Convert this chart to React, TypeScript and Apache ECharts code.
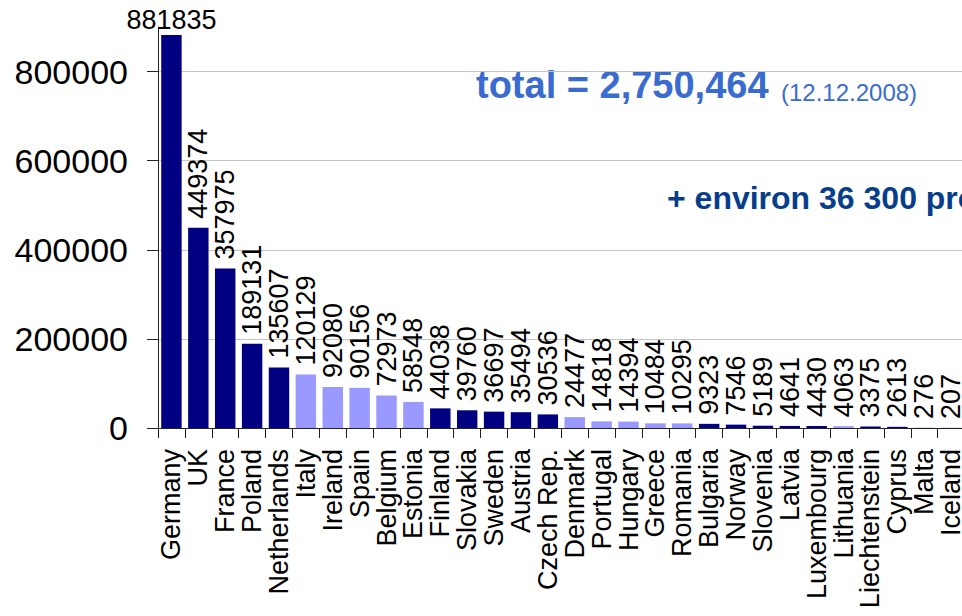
import React, { useEffect, useRef } from "react";
import * as echarts from "echarts";

const categories = [
  "Germany", "UK", "France", "Poland", "Netherlands", "Italy", "Ireland", "Spain",
  "Belgium", "Estonia", "Finland", "Slovakia", "Sweden", "Austria", "Czech Rep.",
  "Denmark", "Portugal", "Hungary", "Greece", "Romania", "Bulgaria", "Norway",
  "Slovenia", "Latvia", "Luxembourg", "Lithuania", "Liechtenstein", "Cyprus",
  "Malta", "Iceland",
];
const values = [
  881835, 449374, 357975, 189131, 135607, 120129, 92080, 90156, 72973, 58548,
  44038, 39760, 36697, 35494, 30536, 24477, 14818, 14394, 10484, 10295, 9323,
  7546, 5189, 4641, 4430, 4063, 3375, 2613, 276, 207,
];
// 0 = dark navy, 1 = light lavender
const colorGroup = [
  0, 0, 0, 0, 0, 1, 1, 1, 1, 1, 0, 0, 0, 0, 0, 1, 1, 1, 1, 1, 0, 0, 0, 0, 0, 1,
  0, 0, 0, 0,
];
// extra (off-picture) categories continue to the right of Iceland
const extraCategories = ["", "", "", "", ""];
const yTicks = [0, 200000, 400000, 600000, 800000];

const DARK = "#000080";
const LIGHT = "#9999ff";

export default function App() {
  const ref = useRef<HTMLDivElement>(null);
  useEffect(() => {
    if (!ref.current) return;
    const chart = echarts.init(ref.current, undefined, { renderer: "svg" });
    const font = "Liberation Sans, Arial, sans-serif";
    const data = values.map((v, i) => {
      const item: any = {
        value: v,
        itemStyle: { color: colorGroup[i] ? LIGHT : DARK },
      };
      if (i === 0) {
        item.label = {
          rotate: 0,
          align: "center",
          verticalAlign: "bottom",
          distance: 2,
        };
      }
      return item;
    });
    chart.setOption({
      animation: false,
      backgroundColor: "#ffffff",
      grid: {
        left: 158,
        right: -137,
        top: 27,
        bottom: 188,
        containLabel: false,
        outerBoundsMode: "none",
      },
      xAxis: {
        type: "category",
        data: categories.concat(extraCategories),
        axisLine: { lineStyle: { color: "#222", width: 1 } },
        axisTick: { show: true, length: 10, lineStyle: { color: "#222" } },
        axisLabel: {
          interval: 0,
          rotate: 90,
          margin: 21,
          fontFamily: font,
          fontSize: 27,
          color: "#000",
        },
        splitLine: { show: false },
      },
      yAxis: {
        type: "value",
        min: 0,
        max: 900000,
        interval: 100000,
        axisLine: { show: true, lineStyle: { color: "#222" } },
        axisTick: {
          show: true,
          length: 11,
          customValues: yTicks,
          lineStyle: { color: "#222" },
        },
        axisLabel: {
          customValues: yTicks,
          formatter: (v: number) => String(v),
          margin: 30,
          fontFamily: font,
          fontSize: 34,
          color: "#000",
        },
        splitLine: { show: true, lineStyle: { color: "#c4c4c4", width: 1 } },
      },
      series: [
        {
          type: "bar",
          data,
          barCategoryGap: "24%",
          label: {
            show: true,
            position: "top",
            rotate: 90,
            align: "left",
            verticalAlign: "middle",
            distance: 9,
            fontFamily: font,
            fontSize: 27,
            color: "#000",
          },
        },
      ],
      graphic: [
        {
          type: "text",
          left: 476,
          top: 66,
          style: {
            text: "total = 2,750,464",
            fontFamily: font,
            fontWeight: "bold",
            fontSize: 38,
            fill: "#3a6bd0",
          },
        },
        {
          type: "text",
          left: 781,
          top: 80,
          style: {
            text: "(12.12.2008)",
            fontFamily: font,
            fontSize: 24,
            fill: "#3a6bd0",
          },
        },
        {
          type: "text",
          x: 667,
          y: 198,
          style: {
            text: "+ environ 36 300 provenant d'autres pays",
            fontFamily: font,
            fontWeight: "bold",
            fontSize: 32,
            fill: "#063e8c",
            verticalAlign: "middle",
          },
        },
      ],
    });
    return () => chart.dispose();
  }, []);
  return (
    <div
      style={{
        position: "absolute",
        left: 0,
        top: 0,
        width: 962,
        height: 616,
        overflow: "hidden",
        background: "#fff",
      }}
    >
      <div ref={ref} style={{ width: 962, height: 616 }} />
    </div>
  );
}
